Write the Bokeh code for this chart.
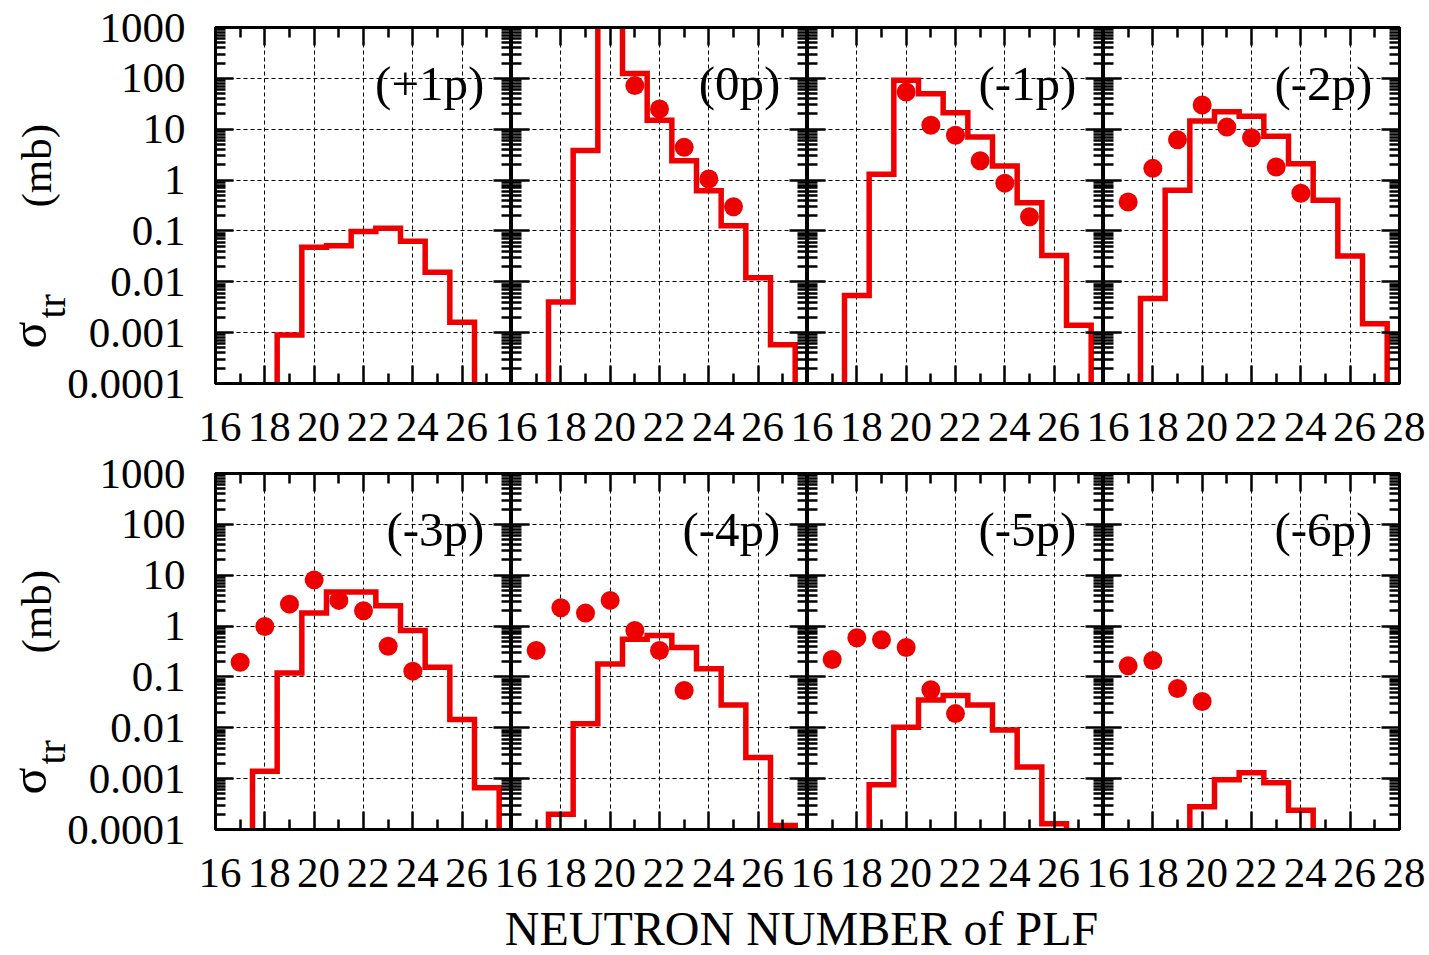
from bokeh.plotting import figure
from bokeh.layouts import row, column
from bokeh.models import (FixedTicker, LogAxis, LinearAxis, Label, Range1d,
                          LogScale, CustomJSTickFormatter)
from bokeh.core.properties import value
from bokeh.embed import file_html
from bokeh.resources import INLINE
import math

# ---------------------------------------------------------------- data ----
panel_tags = ["(+1p)", "(0p)", "(-1p)", "(-2p)", "(-3p)", "(-4p)", "(-5p)", "(-6p)"]

# calculated transfer cross sections (mb); one histogram bin per neutron number N
calc_first_n = [19, 18, 18, 18, 18, 18, 19, 20]
calc_plus1p = [0.0009, 0.048, 0.051, 0.097, 0.113, 0.063, 0.0154, 0.0016]
calc_0p = [0.004, 3.8, 5000.0, 124, 15, 2.4, 0.62, 0.126, 0.012, 0.00058]
calc_minus1p = [0.0054, 1.3, 92, 50, 21, 7.0, 1.9, 0.36, 0.033, 0.0014]
calc_minus2p = [0.0047, 0.63, 14.5, 22, 18, 7.3, 2.1, 0.40, 0.032, 0.0015]
calc_minus3p = [0.0014, 0.12, 1.8, 4.7, 4.7, 2.5, 0.82, 0.155, 0.0145, 0.00066]
calc_minus4p = [0.0002, 0.012, 0.18, 0.55, 0.65, 0.38, 0.145, 0.028, 0.0026, 0.00012]
calc_minus5p = [0.00076, 0.0102, 0.035, 0.043, 0.028, 0.009, 0.0017, 0.00013]
calc_minus6p = [0.00028, 0.00095, 0.0013, 0.00083, 0.00024]
calc_series = [calc_plus1p, calc_0p, calc_minus1p, calc_minus2p,
               calc_minus3p, calc_minus4p, calc_minus5p, calc_minus6p]

# measured transfer cross sections (mb)
exp_first_n = [17, 21, 20, 17, 17, 17, 17, 17]
exp_plus1p = []
exp_0p = [72, 25, 4.4, 1.05, 0.30]
exp_minus1p = [54, 12, 7.6, 2.4, 0.87, 0.19]
exp_minus2p = [0.37, 1.7, 6.2, 30, 11, 6.8, 1.8, 0.55]
exp_minus3p = [0.195, 0.98, 2.7, 8.1, 3.2, 2.0, 0.40, 0.13]
exp_minus4p = [0.33, 2.3, 1.8, 3.2, 0.82, 0.33, 0.054]
exp_minus5p = [0.22, 0.59, 0.54, 0.38, 0.056, 0.019]
exp_minus6p = [0.165, 0.21, 0.059, 0.033]
exp_series = [exp_plus1p, exp_0p, exp_minus1p, exp_minus2p,
              exp_minus3p, exp_minus4p, exp_minus5p, exp_minus6p]

# axes
x_lo, x_hi = 16, 28
x_major_ticks = [16, 18, 20, 22, 24, 26, 28]
x_tick_labels = ["16", "18", "20", "22", "24", "26", "28"]
x_minor_ticks = [17, 19, 21, 23, 25, 27]
x_grid_ticks = [18, 20, 22, 24, 26]
y_lo, y_hi = 1e-4, 1e3
y_major_ticks = [1e-4, 1e-3, 1e-2, 1e-1, 1, 10, 100, 1000]
y_tick_labels = ["0.0001", "0.001", "0.01", "0.1", "1", "10", "100", "1000"]
y_minor_ticks = [k * 10.0 ** d for d in range(-4, 3) for k in range(2, 10)]

y_title_symbol, y_title_sub, y_title_unit = "σ", "tr", "(mb)"
x_title = "NEUTRON NUMBER of PLF"

# ---------------------------------------------------------------- layout --
RED = "#ee0000"
FONT = "Liberation Serif"
EMPTY_BIN = 1e-7            # level of the empty bins that close each histogram
FRAME_W, FRAME_H = 296, 356
LEFT_W = 190                # y title + y tick labels
LEFT_GAP = 25               # between tick-label strip and first frame
RIGHT_PAD = 30
EDGE = 2                    # keeps the outer frame lines whole
ROW_TOP = [27, EDGE]        # space above each row of frames
STRIP_H = [86, 69]          # x tick-label strips under each row
TITLE_H = 55
TOTAL_W = LEFT_W + LEFT_GAP + 4 * FRAME_W + RIGHT_PAD
PX_PER_DECADE = FRAME_H / (math.log10(y_hi) - math.log10(y_lo))
PX_PER_UNIT = FRAME_W / (x_hi - x_lo)


def style_axis(ax, major, minor):
    ax.ticker = FixedTicker(ticks=major, minor_ticks=minor)
    ax.axis_line_color = "black"
    ax.axis_line_width = 3
    ax.major_tick_in = 18
    ax.major_tick_out = 0
    ax.minor_tick_in = 10
    ax.minor_tick_out = 0
    ax.major_tick_line_width = 2.5
    ax.minor_tick_line_width = 2.5
    ax.major_tick_line_color = "black"
    ax.minor_tick_line_color = "black"
    ax.axis_label = None
    ax.formatter = CustomJSTickFormatter(code="return ''")
    ax.major_label_text_font_size = "0px"
    ax.major_label_standoff = 0


def make_panel(i):
    r, col = divmod(i, 4)
    p = figure(frame_width=FRAME_W, frame_height=FRAME_H,
               x_range=Range1d(x_lo, x_hi), y_range=Range1d(y_lo, y_hi),
               y_axis_type="log", output_backend="svg", toolbar_location=None,
               min_border_left=LEFT_GAP if col == 0 else 0,
               min_border_right=RIGHT_PAD if col == 3 else 0,
               min_border_top=ROW_TOP[r], min_border_bottom=EDGE,
               outline_line_color="black", outline_line_width=3,
               background_fill_color="white", border_fill_color="white")

    style_axis(p.xaxis[0], x_major_ticks, x_minor_ticks)
    style_axis(p.yaxis[0], y_major_ticks, y_minor_ticks)
    top = LinearAxis()
    style_axis(top, x_major_ticks, x_minor_ticks)
    p.add_layout(top, "above")
    right = LogAxis()
    style_axis(right, y_major_ticks, y_minor_ticks)
    p.add_layout(right, "right")

    # dashed grid
    p.xgrid.ticker = FixedTicker(ticks=x_grid_ticks)
    p.ygrid.ticker = FixedTicker(ticks=y_major_ticks[1:-1])
    for g in (p.xgrid[0], p.ygrid[0]):
        g.grid_line_color = "black"
        g.grid_line_width = 1
        g.grid_line_dash = "4 3"
        g.grid_line_alpha = 1.0

    # calculated histogram (bins centred on N, closed by empty bins on both sides)
    vals = calc_series[i]
    n0 = calc_first_n[i]
    xs = [n0 - 1] + [n0 + k for k in range(len(vals))] + [n0 + len(vals)]
    ys = [EMPTY_BIN] + list(vals) + [EMPTY_BIN]
    p.step(xs, ys, mode="center", line_color=RED, line_width=5.5,
           line_join="miter")

    # measured points
    ev = exp_series[i]
    if ev:
        ex = [exp_first_n[i] + k for k in range(len(ev))]
        p.scatter(ex, ev, size=19, marker="circle", fill_color=RED,
                  line_color=RED, line_width=0)

    p.add_layout(Label(x=26.9, y=80, text=panel_tags[i], text_align="right",
                       text_baseline="middle", text_font=FONT,
                       text_font_size="49px", text_color="black"))
    return p


def blank(width, height, x_range, y_range, **kw):
    f = figure(width=width, height=height, x_range=x_range, y_range=y_range,
               x_axis_location=None, y_axis_location=None, output_backend="svg",
               toolbar_location=None, min_border=0, outline_line_color=None, **kw)
    f.grid.visible = False
    return f


def left_block(above, below):
    """y title and y tick labels for one row; frame spans `above`..`below` px."""
    h = above + FRAME_H + below
    # log scale for the tick labels, lined up with the panel frames
    ylo = 10 ** (math.log10(y_lo) - below / PX_PER_DECADE)
    yhi = 10 ** (math.log10(y_hi) + above / PX_PER_DECADE)
    f = blank(LEFT_W, h, Range1d(0, LEFT_W), Range1d(0, h))
    f.extra_y_ranges = {"sigma": Range1d(ylo, yhi)}
    f.extra_y_scales = {"sigma": LogScale()}
    f.text(x=[LEFT_W - 5] * len(y_major_ticks), y=y_major_ticks, text=y_tick_labels,
           y_range_name="sigma", text_align="right", text_baseline="middle",
           text_font=value(FONT), text_font_size="43px", text_color="black")

    # rotated title: σ_tr (mb); each piece starts `dy` px above the frame bottom
    for txt, x, dy, size in [(y_title_symbol, 28, 35, "50px"),
                             (y_title_sub, 51, 65, "40px"),
                             (y_title_unit, 36, 176, "43px")]:
        f.text(x=[x], y=[below + dy], text=[txt], angle=math.pi / 2,
               text_align="left", text_baseline="middle",
               text_font=value(FONT), text_font_size=size, text_color="black")
    return f


def tick_strip(height, label_y):
    # neutron-number labels under a row of four panels
    start = x_lo - LEFT_GAP / PX_PER_UNIT
    end = x_lo + 4 * (x_hi - x_lo) + RIGHT_PAD / PX_PER_UNIT
    f = blank(TOTAL_W - LEFT_W, height, Range1d(start, end), Range1d(0, height))
    pos, labs = [], []
    for col in range(4):
        last = len(x_major_ticks) if col == 3 else len(x_major_ticks) - 1
        for t, lab in zip(x_major_ticks[:last], x_tick_labels[:last]):
            pos.append(t + col * (x_hi - x_lo) + 0.18)
            labs.append(lab)
    f.text(x=pos, y=[label_y] * len(pos), text=labs,
           text_align="center", text_baseline="middle", text_font=value(FONT),
           text_font_size="43px", text_color="black")
    return f


panels = [make_panel(i) for i in range(8)]
right_col = column(row(*panels[:4]),
                   tick_strip(STRIP_H[0], 45),
                   row(*panels[4:]),
                   tick_strip(STRIP_H[1], 28))

# left column: split between the rows inside the gap of the first tick strip
split = 45
left_col = column(left_block(ROW_TOP[0], split),
                  left_block(EDGE + STRIP_H[0] + EDGE - split,
                             EDGE + STRIP_H[1]))

xl = blank(TOTAL_W, TITLE_H, Range1d(0, TOTAL_W), Range1d(0, TITLE_H))
xl.text(x=[801], y=[27], text=[x_title], text_align="center",
        text_baseline="middle", text_font=value(FONT), text_font_size="48px",
        text_color="black")

layout = column(row(left_col, right_col), xl)

with open("out.html", "w") as fh:
    fh.write(file_html(layout, INLINE))
